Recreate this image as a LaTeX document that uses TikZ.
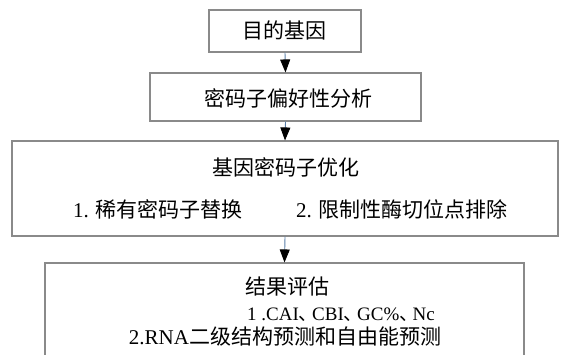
\documentclass[tikz,border=0pt]{standalone}
\usepackage{fontspec}
\setmainfont{Liberation Serif}
\newfontfamily\cjk{Noto Sans CJK SC}
\newcommand{\zh}[1]{{\cjk #1}}
\newcommand{\dun}{\makebox[0.7em][l]{\zh{、}}}
\usetikzlibrary{arrows.meta}
\definecolor{boxline}{HTML}{8A8A8A}
\definecolor{linkline}{HTML}{5A7FA8}
\tikzset{
  box/.style={draw=boxline, line width=1.1pt, fill=white, inner sep=0pt},
  txt/.style={inner sep=0pt, font=\fontsize{21}{24}\selectfont},
  small/.style={inner sep=0pt, font=\fontsize{19}{22}\selectfont},
  link/.style={draw=linkline, line width=0.9pt, -{Triangle[width=10pt,length=13pt,color=black,fill=black]}}
}
\begin{document}
\begin{tikzpicture}[x=1pt,y=-1pt]
\useasboundingbox (0,0) rectangle (564,355);
\clip (0,0) rectangle (564,355);
\fill[white] (0,0) rectangle (564,355);
\node[box, minimum width=152pt, minimum height=42pt] (b1) at (285,31) {};
\node[box, minimum width=271pt, minimum height=48pt] (b2) at (285.5,97) {};
\node[box, minimum width=546pt, minimum height=95pt] (b3) at (285,188.5) {};
\node[box, minimum width=479pt, minimum height=107pt] (b4) at (284.5,316.5) {};
\node[txt] (t1) at (284,30) {\zh{目的基因}};
\node[txt] (t2) at (288,98) {\zh{密码子偏好性分析}};
\node[txt] (t3) at (286,167) {\zh{基因密码子优化}};
\node[txt, anchor=west] (t4) at (73,209) {1. \zh{稀有密码子替换}};
\node[txt, anchor=west] (t5) at (296,209) {2. \zh{限制性酶切位点排除}};
\node[txt] (t6) at (287,287) {\zh{结果评估}};
\node[small, anchor=west] (t7) at (247,315) {1 .CAI\dun CBI\dun GC\%\dun Nc};
\node[txt] (t8) at (285,337) {2.RNA\zh{二级结构预测和自由能预测}};
\draw[link] (b1.south) -- (b2.north);
\draw[link] (b2.south) -- (b3.north);
\draw[link] (b3.south) -- (b4.north);
\end{tikzpicture}
\end{document}
